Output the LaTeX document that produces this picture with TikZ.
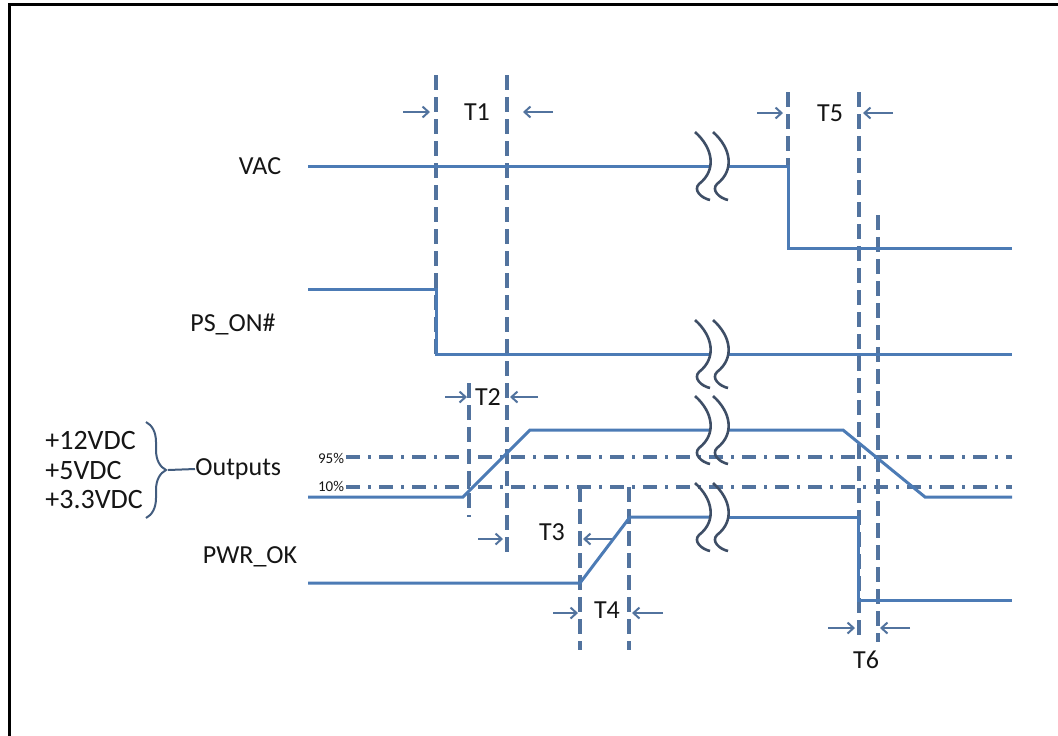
\documentclass[tikz,border=0pt]{standalone}
\usepackage{fontspec}
\setmainfont{Carlito}
\usetikzlibrary{arrows.meta,decorations.pathreplacing}
\definecolor{cS}{HTML}{4C7BB5}
\definecolor{cM}{HTML}{52739E}
\definecolor{cK}{HTML}{3E4E66}
\definecolor{cT}{HTML}{151515}
\tikzset{
  frame/.style={line width=1.5pt,black},
  sig/.style={line width=1.5pt,cS,line join=miter},
  vmark/.style={line width=1.7pt,cM,dash pattern=on 7.5pt off 3.5pt},
  lvl/.style={line width=1.6pt,cM,dash pattern=on 7pt off 4pt on 1.5pt off 4pt},
  tarr/.style={-{Straight Barb[length=3pt,width=5.5pt]},line width=1pt,cM},
  lbl/.style={font=\fontsize{13}{15}\selectfont,text=cT,inner sep=0pt},
  pct/.style={font=\fontsize{7.5}{8}\selectfont,text=cT,inner sep=0pt},
  brk/.style={line width=1.3pt,cK},
  brkpic/.pic={
    \foreach \dx in {0,18}
      {\draw[brk] (\dx,-34) .. controls ({\dx+18},-18) and ({\dx+22},4) .. ({\dx+4},18)
                 .. controls ({\dx-2},24) and ({\dx+6},32) .. ({\dx+15},34);}
  },
}

\begin{document}
\begin{tikzpicture}[x=0.5pt,y=-0.5pt]
  \useasboundingbox (0,0) rectangle (1058,735);
  \draw[frame] (9,740) -- (9,4) -- (1062,4);

  % signal names
  \node[lbl] (vac) at (260,166) {VAC};
  \node[lbl] (pson) at (233,324) {PS\_ON\#};
  \node[lbl,anchor=west] (outs) at (195,469) {Outputs};
  \node[lbl] (pwrok) at (250,557) {PWR\_OK};
  \foreach \v/\y [count=\i] in {+12VDC/440,+5VDC/470,+3.3VDC/500}
    {\node[lbl,font=\fontsize{14}{16}\selectfont,anchor=west] (rail\i) at (45,\y) {\v};}
  \draw[decorate,decoration={brace,amplitude=10pt},line width=1pt,cM!80!black]
    (146,422) -- (146,518) coordinate[pos=.5] (bmid);
  \coordinate (btip) at (168,470);
  \draw[line width=1pt,cM!80!black] (btip) -- (outs.west);

  % 95% / 10% levels
  \node[pct] (p95) at (331,458) {95\%};
  \node[pct] (p10) at (331,486) {10\%};
  \coordinate (e95) at (1012,457);
  \coordinate (e10) at (1012,487);
  \draw[lvl] ([xshift=1pt]p95.east |- e95) -- (e95);
  \draw[lvl] ([xshift=1pt]p10.east |- e10) -- (e10);

  % timing markers
  \foreach \x/\ya/\yb in {436/75/354,507/75/553,469/383/517,580/487/650,
                          629/487/650,788/92/166,859/92/642,878/215/642}
    {\draw[vmark] (\x,\ya) -- (\x,\yb);}

  % waveforms
  \draw[sig] (308,166) -- (710,166);
  \draw[sig] (728,166) -- (788,166) -- (788,248) -- (1012,248);
  \draw[sig] (308,289) -- (436,289) -- (436,354) -- (710,354);
  \draw[sig] (728,354) -- (1012,354);
  \draw[sig] (308,497) -- (463,497) -- (530,430) -- (710,430);
  \draw[sig] (728,430) -- (843,430) -- (925,497) -- (1012,497);
  \draw[sig] (308,583) -- (580,583) -- (630,517) -- (710,517);
  \draw[sig] (728,517) -- (858,517) -- (858,600) -- (1012,600);
  \foreach \y in {166,354,430,517}
    {\pic at (695,\y) {brkpic};}

  % interval arrows and labels
  \foreach \n/\la/\lb/\ra/\rb/\y/\tx/\ty in {
      T1/403/430/553/523/112/477/112,
      T2/445/467/538/510/397/488/397,
      T3/478/503/612/583/539/552/532,
      T4/553/578/663/632/613/607/610,
      T5/757/783/893/863/113/830/113,
      T6/828/855/910/880/628/866/660}
  {
    \node[lbl] (lab\n) at (\tx,\ty) {\n};
    \coordinate (\n l) at (\la,\y);
    \coordinate (\n r) at (\ra,\y);
    \draw[tarr] (\n l) -- (\lb,\y);
    \draw[tarr] (\n r) -- (\rb,\y);
  }
\end{tikzpicture}
\end{document}
